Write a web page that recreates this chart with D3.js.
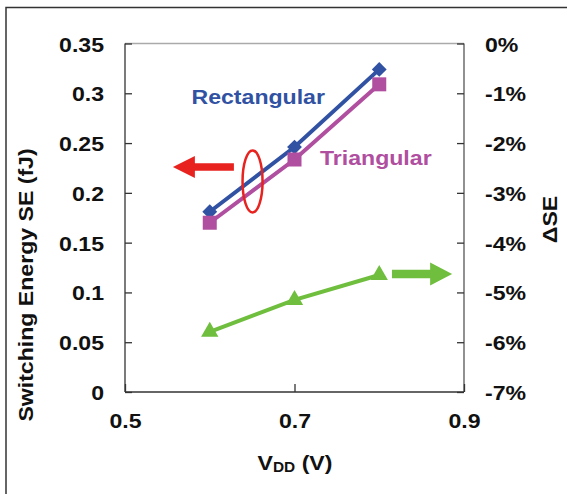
<!DOCTYPE html>
<html><head><meta charset="utf-8">
<script src="https://cdn.jsdelivr.net/npm/d3@7"></script>
<style>
html,body{margin:0;padding:0;background:#fff;}
svg{display:block;font-family:"Liberation Sans",Arial,sans-serif;font-weight:bold;}
</style></head>
<body><svg id="c" width="567" height="494"></svg>
<script>
// Data
const vdd = [0.6, 0.7, 0.8];
const rectangularSE = [0.181, 0.246, 0.324];
const triangularSE = [0.170, 0.2335, 0.309];
const deltaSE = [-5.79, -5.15, -4.65];
const xTicks = [0.5, 0.7, 0.9];
const yLeftTicks = [0, 0.05, 0.1, 0.15, 0.2, 0.25, 0.3, 0.35];
const yRightTicks = [0, -1, -2, -3, -4, -5, -6, -7];
// Annotations (data units)
const leftArrow = {x1: 0.6285, x2: 0.5565, y: 0.226};
const rightArrow = {x1: 0.815, x2: 0.886, y: -4.63};
const ellipseAnn = {x: 0.6505, y: 0.2115};

const svg = d3.select("#c");
const L = 125, R = 464, T = 43.5, B = 392;
const SX = 1.1; // horizontal text stretch seen in the reference
const x = d3.scaleLinear().domain([0.5, 0.9]).range([L, R]);
const yl = d3.scaleLinear().domain([0, 0.35]).range([B, T]);
const yr = d3.scaleLinear().domain([-7, 0]).range([B, T]);

function stretch(sel, rot) {
  sel.each(function () {
    const t = d3.select(this);
    const tx = +t.attr("x") || 0, ty = +t.attr("y") || 0;
    t.attr("x", 0).attr("y", 0)
      .attr("transform", `translate(${tx},${ty})${rot ? " rotate(" + rot + ")" : ""} scale(${SX},1)`);
  });
  return sel;
}

// outer frame
svg.append("rect").attr("x", 6).attr("y", 7.5).attr("width", 580).attr("height", 500)
  .attr("fill", "none").attr("stroke", "#333").attr("stroke-width", 1.5);

// plot border
svg.append("line").attr("x1", L).attr("x2", R).attr("y1", T).attr("y2", T).attr("stroke", "#aaa").attr("stroke-width", 1.3);
svg.append("line").attr("x1", R).attr("x2", R).attr("y1", T).attr("y2", B).attr("stroke", "#555").attr("stroke-width", 1.3);
svg.append("line").attr("x1", L).attr("x2", L).attr("y1", T).attr("y2", B).attr("stroke", "#333").attr("stroke-width", 1.3);
svg.append("line").attr("x1", L).attr("x2", R).attr("y1", B).attr("y2", B).attr("stroke", "#333").attr("stroke-width", 1.3);

// axes
const fs = 21;
const axL = d3.axisLeft(yl).tickValues(yLeftTicks).tickSize(-7).tickPadding(21)
  .tickFormat(d => d === 0 ? "0" : String(d));
const gL = svg.append("g").attr("transform", `translate(${L},0)`).call(axL);
const axR = d3.axisRight(yr).tickValues(yRightTicks).tickSize(-7).tickPadding(21)
  .tickFormat(d => d + "%");
const gR = svg.append("g").attr("transform", `translate(${R},0)`).call(axR);
const axB = d3.axisBottom(x).tickValues(xTicks).tickSize(-8).tickPadding(21)
  .tickFormat(d3.format(".1f"));
const gB = svg.append("g").attr("transform", `translate(0,${B})`).call(axB);
[gL, gR, gB].forEach(g => {
  g.select(".domain").remove();
  g.selectAll(".tick line").attr("stroke", "#333").attr("stroke-width", 1.3);
  g.selectAll("text").attr("font-size", fs).attr("font-family", "Liberation Sans, Arial, sans-serif")
    .attr("font-weight", "bold").attr("fill", "#111");
});
gL.selectAll("text").attr("dy", "0.36em");
gR.selectAll("text").attr("dy", "0.36em");
[gL, gR, gB].forEach(g => stretch(g.selectAll("text")));

// axis titles
svg.append("text").attr("x", 33).attr("y", 285)
  .attr("text-anchor", "middle").attr("font-size", 21).attr("fill", "#111")
  .text("Switching Energy SE (fJ)").call(s => stretch(s, -90));
svg.append("text").attr("x", 557).attr("y", 219.5)
  .attr("text-anchor", "middle").attr("font-size", 21).attr("fill", "#111")
  .text("ΔSE").call(s => stretch(s, -90));
const xt = svg.append("text").attr("x", 295).attr("y", 470).attr("text-anchor", "middle")
  .attr("font-size", 21).attr("fill", "#111");
xt.append("tspan").text("V");
xt.append("tspan").attr("font-size", 14).attr("dy", 2).text("DD");
xt.append("tspan").attr("dy", -2).text(" (V)");
stretch(xt);

// series
const blue = "#3152a3", purple = "#b04e9f", green = "#6fbe3e", red = "#e8231f";
const line = (ys, sc) => d3.line().x((d, i) => x(vdd[i])).y(d => sc(d))(ys);

svg.append("path").attr("d", line(triangularSE, yl)).attr("fill", "none").attr("stroke", purple).attr("stroke-width", 4);
svg.append("path").attr("d", line(rectangularSE, yl)).attr("fill", "none").attr("stroke", blue).attr("stroke-width", 4);
svg.append("path").attr("d", line(deltaSE, yr)).attr("fill", "none").attr("stroke", green).attr("stroke-width", 4);

svg.selectAll(".mr").data(rectangularSE).enter().append("path")
  .attr("transform", (d, i) => `translate(${x(vdd[i])},${yl(d)})`)
  .attr("d", d3.symbol().type(d3.symbolDiamond2).size(140)).attr("fill", blue);
svg.selectAll(".mt").data(triangularSE).enter().append("rect")
  .attr("x", (d, i) => x(vdd[i]) - 7).attr("y", d => yl(d) - 7)
  .attr("width", 14).attr("height", 14).attr("fill", purple);
svg.selectAll(".md").data(deltaSE).enter().append("path")
  .attr("transform", (d, i) => `translate(${x(vdd[i])},${yr(d)})`)
  .attr("d", d3.symbol().type(d3.symbolTriangle).size(130)).attr("fill", green);

// series labels
svg.append("text").attr("x", 191.5).attr("y", 103.5).attr("font-size", 21).attr("fill", blue).text("Rectangular").call(stretch);
svg.append("text").attr("x", 320).attr("y", 165).attr("font-size", 21).attr("fill", purple).text("Triangular").call(stretch);

// annotations
function arrow(x1, x2, yc, color, shaftW, headL, headW) {
  const dir = Math.sign(x2 - x1);
  const hb = x2 - dir * headL;
  const pts = [[x1, yc - shaftW / 2], [hb, yc - shaftW / 2], [hb, yc - headW / 2], [x2, yc],
    [hb, yc + headW / 2], [hb, yc + shaftW / 2], [x1, yc + shaftW / 2]];
  svg.append("path").attr("d", d3.line()(pts) + "Z").attr("fill", color);
}
arrow(x(leftArrow.x1), x(leftArrow.x2), yl(leftArrow.y), red, 7.5, 22, 22);
arrow(x(rightArrow.x1), x(rightArrow.x2), yr(rightArrow.y), green, 8.5, 22, 23);
svg.append("ellipse").attr("cx", x(ellipseAnn.x)).attr("cy", yl(ellipseAnn.y)).attr("rx", 10).attr("ry", 31)
  .attr("fill", "none").attr("stroke", red).attr("stroke-width", 2.5);
</script></body></html>
